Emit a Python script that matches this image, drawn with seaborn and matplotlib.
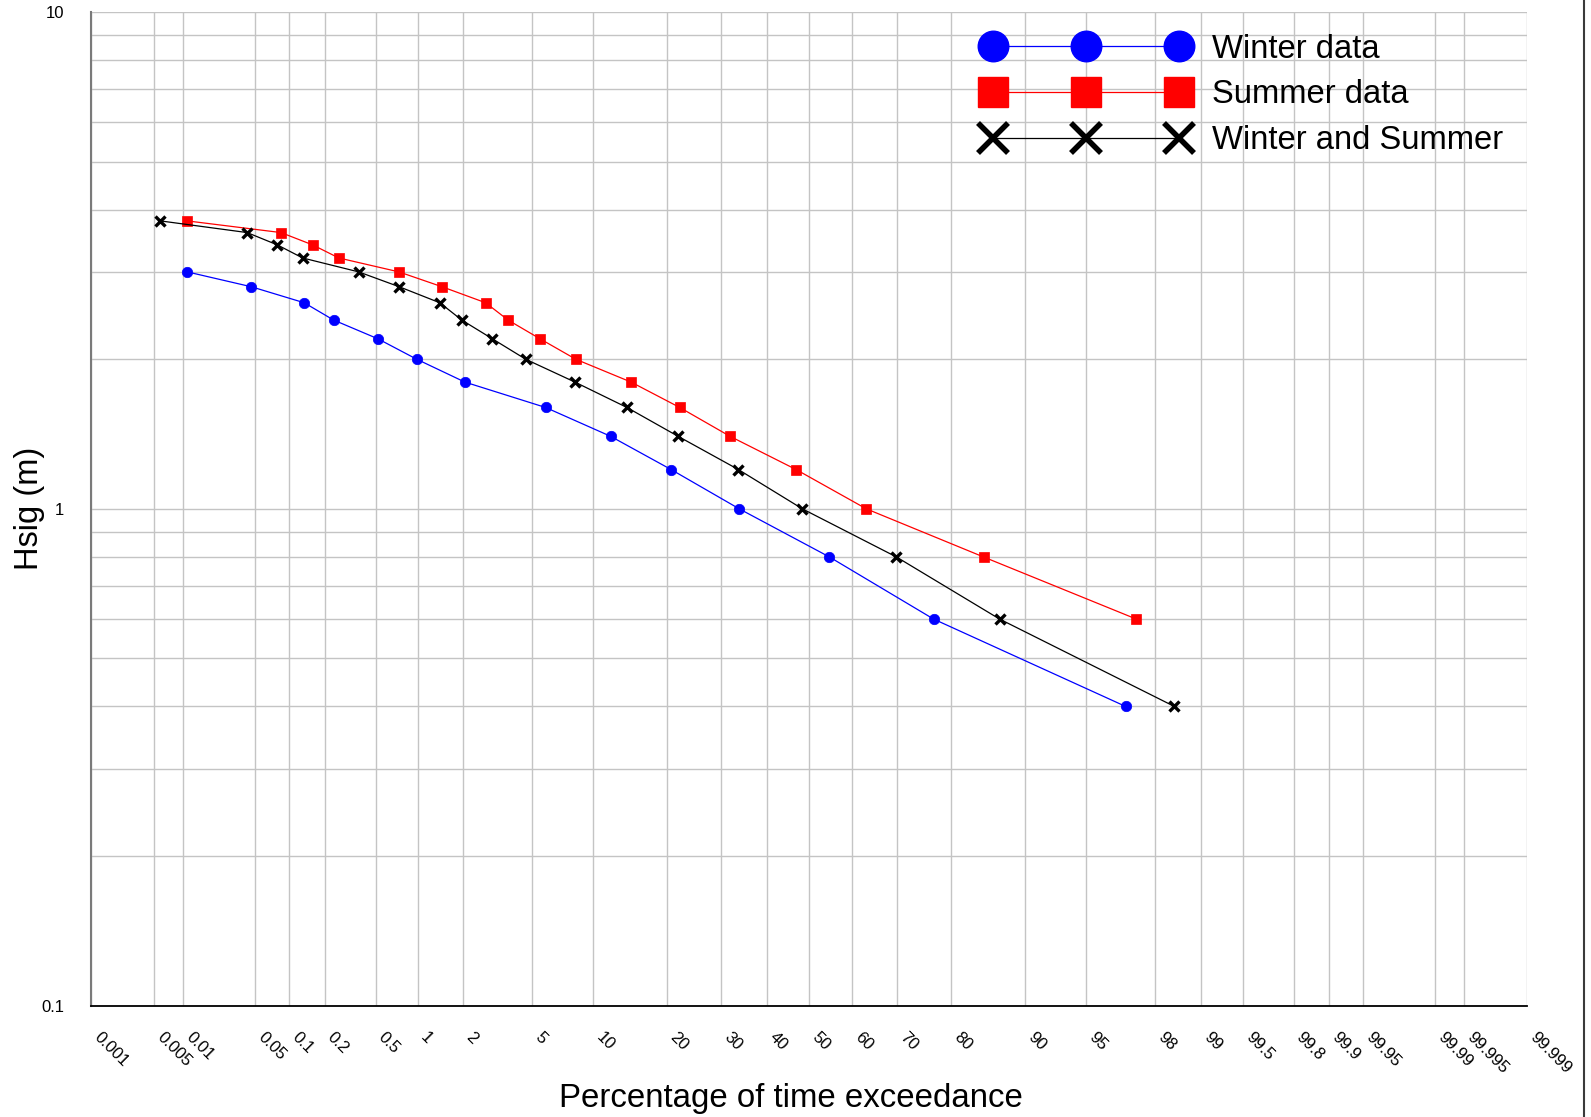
import math

import numpy as np
import pandas as pd
import matplotlib
matplotlib.use("Agg")
import matplotlib.pyplot as plt
from matplotlib.lines import Line2D
from matplotlib.ticker import FixedLocator, FixedFormatter, LogLocator, NullFormatter, NullLocator
import seaborn as sns

# Significant wave height against percentage of time it is exceeded
winter_pct = [0.011, 0.046, 0.135, 0.236, 0.52, 0.99, 2.04, 5.87, 11.9, 20.6, 33.9, 54.8, 77.0, 97.0]
winter_hsig = [3.0, 2.8, 2.6, 2.4, 2.2, 2.0, 1.8, 1.6, 1.4, 1.2, 1.0, 0.8, 0.6, 0.4]

summer_pct = [0.011, 0.085, 0.159, 0.26, 0.74, 1.46, 2.73, 3.68, 5.49, 8.3, 14.5, 22.1, 31.9,
              46.9, 63.3, 85.0, 97.4]
summer_hsig = [3.8, 3.6, 3.4, 3.2, 3.0, 2.8, 2.6, 2.4, 2.2, 2.0, 1.8, 1.6, 1.4, 1.2, 1.0, 0.8, 0.6]

combined_pct = [0.0058, 0.042, 0.079, 0.131, 0.372, 0.744, 1.41, 1.95, 2.99, 4.62, 8.2, 13.95,
                21.8, 33.7, 48.4, 69.8, 87.1, 98.5]
combined_hsig = [3.8, 3.6, 3.4, 3.2, 3.0, 2.8, 2.6, 2.4, 2.2, 2.0, 1.8, 1.6, 1.4, 1.2, 1.0, 0.8,
                 0.6, 0.4]

series_names = ["Winter data", "Summer data", "Winter and Summer"]

x_tick_labels = ["0.001", "0.005", "0.01", "0.05", "0.1", "0.2", "0.5", "1", "2", "5", "10",
                 "20", "30", "40", "50", "60", "70", "80", "90", "95", "98", "99", "99.5",
                 "99.8", "99.9", "99.95", "99.99", "99.995", "99.999"]
y_tick_labels = ["0.1", "1", "10"]


# ---- normal probability scale for the x axis ----
_erfc = np.vectorize(math.erfc, otypes=[float])


def norm_cdf(z):
    z = np.asarray(z, dtype=float)
    return 0.5 * _erfc(-z / math.sqrt(2.0))


def norm_ppf(q):
    q = np.asarray(q, dtype=float)
    shape = q.shape
    q = np.atleast_1d(q).astype(float)
    a = (-3.969683028665376e+01, 2.209460984245205e+02, -2.759285104469687e+02,
         1.383577518672690e+02, -3.066479806614716e+01, 2.506628277459239e+00)
    b = (-5.447609879822406e+01, 1.615858368580409e+02, -1.556989798598866e+02,
         6.680131188771972e+01, -1.328068155288572e+01)
    c = (-7.784894002430293e-03, -3.223964580411365e-01, -2.400758277161838e+00,
         -2.549732539343734e+00, 4.374664141464968e+00, 2.938163982698783e+00)
    d = (7.784695709041462e-03, 3.224671290700398e-01, 2.445134137142996e+00,
         3.754408661907416e+00)
    plow = 0.02425
    x = np.full_like(q, np.nan)
    lo = q < plow
    hi = q > 1 - plow
    mid = (~lo) & (~hi) & np.isfinite(q)

    def tail(t):
        num = ((((c[0] * t + c[1]) * t + c[2]) * t + c[3]) * t + c[4]) * t + c[5]
        den = (((d[0] * t + d[1]) * t + d[2]) * t + d[3]) * t + 1
        return num / den

    if lo.any():
        x[lo] = tail(np.sqrt(-2 * np.log(q[lo])))
    if hi.any():
        x[hi] = -tail(np.sqrt(-2 * np.log(1 - q[hi])))
    if mid.any():
        r = q[mid] - 0.5
        s = r * r
        num = (((((a[0] * s + a[1]) * s + a[2]) * s + a[3]) * s + a[4]) * s + a[5]) * r
        den = ((((b[0] * s + b[1]) * s + b[2]) * s + b[3]) * s + b[4]) * s + 1
        x[mid] = num / den
    ok = np.isfinite(x)
    if ok.any():
        e = norm_cdf(x[ok]) - q[ok]
        u = e * math.sqrt(2 * math.pi) * np.exp(x[ok] ** 2 / 2)
        x[ok] = x[ok] - u / (1 + x[ok] * u / 2)
    return x.reshape(shape)


def pct_to_z(p):
    q = np.clip(np.asarray(p, dtype=float) / 100.0, 1e-15, 1 - 1e-15)
    return norm_ppf(q)


def z_to_pct(z):
    return 100.0 * norm_cdf(z)


sns.set_style("white")
plt.rcParams["font.family"] = ["Liberation Sans", "DejaVu Sans"]
plt.rcParams["text.color"] = "black"
plt.rcParams["axes.labelcolor"] = "black"
plt.rcParams["xtick.labelcolor"] = "black"
plt.rcParams["ytick.labelcolor"] = "black"

W, H = 1591, 1117
fig = plt.figure(figsize=(W / 100, H / 100), dpi=100)
ax = fig.add_axes([91.3 / W, 1 - 1005.5 / H, (1527 - 91.3) / W, (1005.5 - 12.2) / H])

ax.set_xscale("function", functions=(pct_to_z, z_to_pct))
ax.set_yscale("log")
ax.set_xlim(0.001, 99.999)
ax.set_ylim(0.1, 10)

series = [
    (winter_pct, winter_hsig, dict(color="#0000ff", marker="o", markersize=7.5,
                                   markeredgecolor="#0000ff", markeredgewidth=0.5)),
    (summer_pct, summer_hsig, dict(color="#ff0000", marker="s", markersize=7,
                                   markeredgecolor="#ff0000", markeredgewidth=0.5)),
    (combined_pct, combined_hsig, dict(color="#000000", marker="x", markersize=7,
                                       markeredgecolor="#000000", markeredgewidth=2.4)),
]

for pct, hs, style in series:
    df = pd.DataFrame({"pct": pct, "hsig": hs})
    sns.lineplot(data=df, x="pct", y="hsig", ax=ax, estimator=None, sort=False,
                 legend=False, linewidth=0.9, zorder=3, **style)

# ticks and grid
x_ticks = [float(t) for t in x_tick_labels]
ax.xaxis.set_major_locator(FixedLocator(x_ticks))
ax.xaxis.set_major_formatter(FixedFormatter(x_tick_labels))
ax.xaxis.set_minor_locator(NullLocator())
ax.yaxis.set_major_locator(FixedLocator([0.1, 1, 10]))
ax.yaxis.set_major_formatter(FixedFormatter(y_tick_labels))
ax.yaxis.set_minor_locator(LogLocator(base=10, subs=np.arange(2, 10)))
ax.yaxis.set_minor_formatter(NullFormatter())

ax.set_axisbelow(True)
grid_kw = dict(color="#c4c4c4", linewidth=1.0)
ax.grid(True, axis="x", which="major", **grid_kw)
ax.grid(True, axis="y", which="both", **grid_kw)

ax.tick_params(axis="x", which="major", direction="in", length=27, width=1.1,
               color="#8a8a8a", pad=17, labelsize=12, labelrotation=-45,
               labelcolor="black")
for lbl in ax.get_xticklabels():
    lbl.set_horizontalalignment("left")
    lbl.set_verticalalignment("top")
ax.tick_params(axis="y", which="major", direction="out", length=6.5, width=0.8,
               color="#000000", pad=13, labelsize=12, labelcolor="black")
ax.tick_params(axis="y", which="minor", direction="in", length=14, width=1.5,
               color="#8a8a8a")

for side in ("top", "right"):
    ax.spines[side].set_visible(False)
ax.spines["left"].set_color("#7a7a7a")
ax.spines["left"].set_linewidth(1.5)
ax.spines["bottom"].set_color("#000000")
ax.spines["bottom"].set_linewidth(1.3)

ax.set_xlabel("Percentage of time exceedance", fontsize=23.8, color="black")
ax.xaxis.set_label_coords(0.487, -0.078)
ax.set_ylabel("Hsig (m)", fontsize=23.5, color="black")
ax.yaxis.set_label_coords(-0.0325, 0.5)

# legend with enlarged markers
handles = [
    Line2D([], [], color="#0000ff", marker="o", markersize=22, markeredgecolor="#0000ff",
           linewidth=0.9),
    Line2D([], [], color="#ff0000", marker="s", markersize=22, markeredgecolor="#ff0000",
           linewidth=0.9),
    Line2D([], [], color="#000000", marker="x", markersize=21, markeredgecolor="#000000",
           markeredgewidth=4, linewidth=0.9),
]
fig.legend(handles, series_names, loc="upper left", bbox_to_anchor=(983 / W, 1 - 33.5 / H),
           frameon=False, numpoints=3, handlelength=6.28, handletextpad=0.72,
           labelspacing=0.45, borderpad=0, borderaxespad=0, fontsize=23.6,
           labelcolor="black")

# border along the right edge of the figure
fig.add_artist(Line2D([1584 / W, 1584 / W], [0, 1], transform=fig.transFigure,
                      color="#3a3a3a", linewidth=1.5))

fig.savefig("out.png", dpi=100)
